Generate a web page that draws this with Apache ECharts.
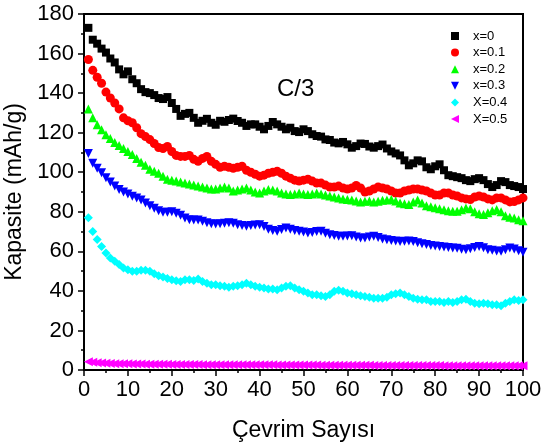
<!DOCTYPE html>
<html>
<head>
<meta charset="utf-8">
<script src="https://cdn.jsdelivr.net/npm/echarts@6/dist/echarts.min.js"></script>
<style>html,body{margin:0;padding:0;background:#fff;}#c{width:543px;height:448px;}</style>
</head>
<body>
<div id="c"></div>
<script>
var cycles = [];
for (var i = 1; i <= 100; i++) cycles.push(i);

var seriesNames = ['x=0', 'x=0.1', 'x=0.2', 'x=0.3', 'X=0.4', 'X=0.5'];

var x0 = [173,167,165,162.5,160.5,157.5,155.5,152,149.5,151,147,145,142,140.5,140,139,137.5,137,138,135,
132,128.5,129.5,130,127.5,125,126,127,125,124,126,125.5,126.4,127.1,125.9,125,123.4,124.2,124.2,123,
121.7,123.4,125.4,124.2,123,121.7,122.5,120.8,120.3,121.7,120.8,119.2,118.3,118,116.6,116.3,115,114.6,115.3,114.1,
112.4,113.2,114.5,114.3,113,112.4,113.2,114,112,110.5,109.5,108.5,106,103.5,104.5,106,105.5,102.5,101.5,103,
104,101,98.5,98,97.5,97,96,95.5,96.5,97,96,94,92.5,93.5,95.5,95,93.5,93,92.5,91.5];

var x01 = [157,151.5,148,145,140.5,137.5,135,132,127.5,126,125,122.5,119.5,118,116.5,114.5,112.5,112,113,110.5,
108.5,108,108,108.5,106.5,105.5,107,108,105.5,104,102.5,103,102.5,102,102.5,103,101,100,99,98,
98.5,99.5,100,100.5,99.5,98,97,96,95.5,96,96.5,95.5,94.5,94.5,93.5,92.5,92.5,93,92,91.5,
92,93.3,92,90,90.5,91.5,92.5,92,91.5,90.5,89.5,89.5,90.5,91,91.5,91.5,91,90.5,89.5,88.5,
88.5,89.5,89.5,88.5,88,87,86.5,86.2,87.5,88,87.5,86.5,86,87,87,86,85,85.2,86,87];

var x02 = [132,127.5,124,121.5,119,117,115,113.5,112,110.5,109,107,105,103.5,101.5,100.5,99.5,98,96.5,96,
95.5,95,94.5,94,93.5,93,92.5,92,91.5,91.5,92,92.5,92,90.5,91,91.5,92,91,90,89.5,
90.5,91.3,91,90.5,89.5,89,88.7,89,89.5,89,88.7,89,89.5,89,88.5,88,87.5,87,86.5,86.2,
86,85.5,85,85.3,85.5,85,85.3,85.8,86,86.2,85.5,84.5,84,83.7,85,86,84.5,83,82.5,82,
81.5,81,80.5,80.3,80.3,81,81.9,81.5,80,79,78.6,79.5,80.5,81.1,80,78,77.2,76.8,76,75.5];

var x03 = [109.5,104.5,102,99.7,97.2,95,93,91.3,90,89,87.8,87,86,84.5,83,81.8,80.5,79.8,79.8,80,
79.2,78.2,76.8,76,75.8,75.8,75.2,74.4,74,73.8,74,74.2,74.4,74.2,73.5,73,72.7,73,73.3,73.5,
72.5,71.2,70.5,70.2,71,71.8,71.2,70.5,70.1,69.8,69.3,69.5,70,70.1,69.2,68.4,68,67.6,67.6,67.8,
67.9,67.3,66.8,66.7,67.3,67.6,67,66.2,65.9,65.5,65.2,65,65.1,65.2,65,64.4,63.8,63.4,63,62.7,
62.5,62.2,61.9,61.7,61.5,61.1,60.8,61.3,62,62.5,61.8,60.8,60.5,60.2,60,60.8,61.7,61.2,60.3,59.5];

var x04 = [77,70,66,62.5,59.2,56.6,55,53.3,51.6,50.7,49.9,49.9,50.4,50.4,49.9,48.7,47.7,47,46.3,45.6,
45.1,44.8,45.6,45.6,45.2,46,44.8,43.9,43.1,43.1,42.6,42.3,41.9,42.3,42.6,43.1,43.9,43.1,42.3,41.9,
41.4,40.9,40.9,40.6,41.4,42.3,42.6,41.4,40.6,39.8,38.9,38,38,37.5,37.2,38,39.8,40.3,39.8,38.9,
38.5,38,37.5,37.2,36.8,36.3,36.3,36.3,36.8,38,38.5,38.9,38,37.2,36.3,35.8,35.5,35.5,34.6,34.6,
34.6,34.1,34.6,34.1,34.6,35.5,35.8,34.6,33.8,33.5,33.8,33.5,33,33,32.5,33.8,34.6,35.5,35.2,35.5];

var x05 = [4.2,3.9,3.7,3.5,3.4,3.3,3.2,3.2,3.1,3.1,3.0,3.0,3.0,2.9,2.9,2.9,2.9,2.9,2.9,2.8,
2.8,2.8,2.8,2.8,2.8,2.8,2.7,2.7,2.7,2.7,2.7,2.7,2.7,2.7,2.6,2.6,2.6,2.6,2.6,2.6,
2.6,2.6,2.6,2.5,2.5,2.5,2.5,2.5,2.5,2.5,2.5,2.5,2.5,2.4,2.4,2.4,2.4,2.4,2.4,2.4,
2.4,2.4,2.4,2.4,2.4,2.3,2.3,2.3,2.3,2.3,2.3,2.3,2.3,2.3,2.3,2.3,2.3,2.3,2.3,2.3,
2.3,2.2,2.2,2.2,2.2,2.2,2.2,2.2,2.2,2.2,2.2,2.2,2.2,2.2,2.2,2.2,2.2,2.2,2.2,2.2];

var xTicks = [0,10,20,30,40,50,60,70,80,90,100];
var yTicks = [0,20,40,60,80,100,120,140,160,180];

var allValues = [x0, x01, x02, x03, x04, x05];
var colors = ['#000000', '#FF0000', '#00FF00', '#0000FF', '#00FFFF', '#FF00FF'];
var symbols = ['rect', 'circle', 'triangle', 'path://M0,0 L10,0 L5,10 Z', 'diamond', 'path://M10,0 L10,10 L0,5 Z'];
var sizes = [8, 9, 9, 9, 9, 9];

var FONT = 'Liberation Sans, Arial, Helvetica, sans-serif';

var series = allValues.map(function (vals, k) {
  return {
    name: seriesNames[k],
    type: 'scatter',
    symbol: symbols[k],
    symbolSize: sizes[k],
    itemStyle: { color: colors[k], opacity: 1 },
    emphasis: { disabled: true },
    animation: false,
    data: cycles.map(function (c, j) { return [c, vals[j]]; })
  };
});

var chart = echarts.init(document.getElementById('c'), null, { renderer: 'canvas' });
chart.setOption({
  backgroundColor: '#ffffff',
  animation: false,
  grid: { left: 84, right: 20, top: 14, bottom: 78, show: true, borderColor: '#000', borderWidth: 2,
    backgroundColor: 'transparent', containLabel: false, outerBoundsMode: 'none' },
  legend: {
    orient: 'vertical',
    left: 446, top: 24,
    itemWidth: 8, itemHeight: 8, itemGap: 2.6,
    data: seriesNames,
    textStyle: { fontFamily: FONT, fontSize: 13, color: '#000', lineHeight: 14, padding: [0, 0, 0, 9] },
    selectedMode: false
  },
  graphic: [{
    type: 'text', left: 277, top: 77,
    style: { text: 'C/3', fontFamily: FONT, fontSize: 24, fill: '#000' }
  }],
  xAxis: {
    type: 'value', min: 0, max: 100, interval: 10,
    name: 'Çevrim Sayısı', nameLocation: 'middle', nameGap: 49,
    nameTextStyle: { fontFamily: FONT, fontSize: 23, color: '#000' },
    axisLine: { show: true, lineStyle: { color: '#000', width: 1.5 } },
    axisTick: { show: true, inside: false, length: 6, lineStyle: { color: '#000', width: 1.5 } },
    minorTick: { show: true, splitNumber: 2, length: 3, lineStyle: { color: '#000', width: 1.5 } },
    splitLine: { show: false },
    axisLabel: { fontFamily: FONT, fontSize: 22, color: '#000', margin: 9,
      formatter: function (v) { return xTicks.indexOf(v) >= 0 ? String(v) : ''; } }
  },
  yAxis: {
    type: 'value', min: 0, max: 180, interval: 20,
    name: 'Kapasite (mAh/g)', nameLocation: 'middle', nameGap: 47, nameRotate: 90,
    nameTextStyle: { fontFamily: FONT, fontSize: 23, color: '#000' },
    axisLine: { show: true, lineStyle: { color: '#000', width: 1.5 } },
    axisTick: { show: true, inside: false, length: 6, lineStyle: { color: '#000', width: 1.5 } },
    minorTick: { show: true, splitNumber: 2, length: 3, lineStyle: { color: '#000', width: 1.5 } },
    splitLine: { show: false },
    axisLabel: { fontFamily: FONT, fontSize: 22, color: '#000', margin: 10,
      formatter: function (v) { return yTicks.indexOf(v) >= 0 ? String(v) : ''; } }
  },
  series: series
});
</script>
</body>
</html>
